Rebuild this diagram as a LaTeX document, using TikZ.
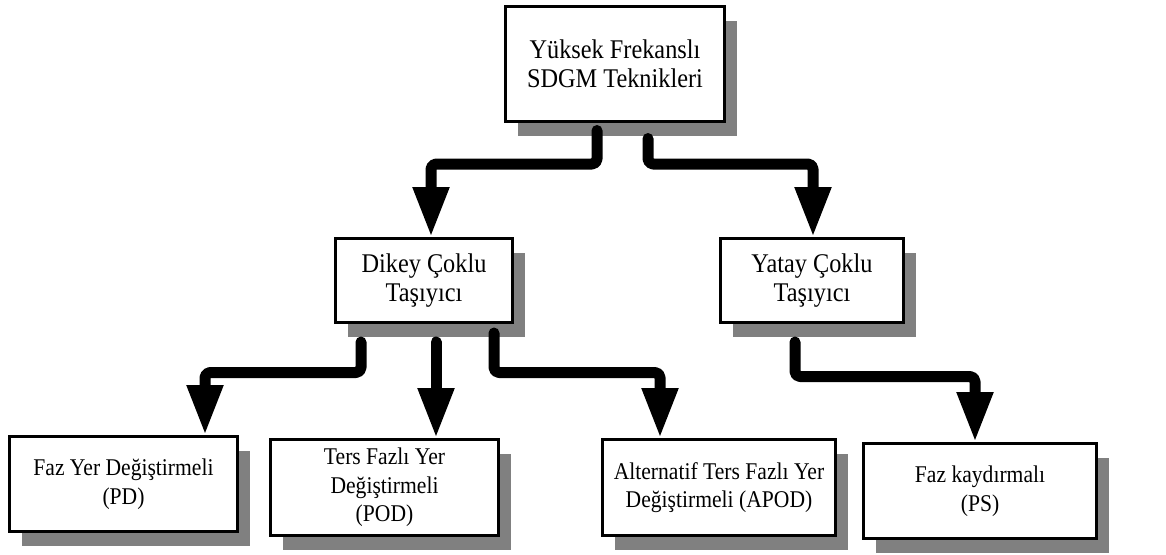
\documentclass[tikz,border=0pt]{standalone}
\usepackage{fontspec}
\setmainfont[FakeStretch=0.9]{Liberation Serif}
\usetikzlibrary{arrows.meta,shadows,calc}

\tikzset{
  box/.style={draw, line width=3pt, fill=white, align=center, inner sep=0pt,
    font=\fontsize{24}{28.5}\selectfont,
    drop shadow={shadow xshift=12.5pt, shadow yshift=-14pt, fill=black!50, opacity=1}},
  bigtext/.style={font=\fontsize{27}{28.5}\selectfont},
  conn/.style={line width=11pt, line cap=round, line join=round, rounded corners=5pt,
    -{Triangle[width=34pt,length=50pt]}},
}

\begin{document}
\begin{tikzpicture}[x=1pt,y=-1pt]
\useasboundingbox (0,0) rectangle (1166,554);

% boxes
\node[box, bigtext, minimum width=219pt, minimum height=115pt] (top) at (615,64)
  {Yüksek Frekanslı\\SDGM Teknikleri};
\node[box, bigtext, minimum width=177pt, minimum height=84pt] (dikey) at (424,280.5)
  {Dikey Çoklu\\Taşıyıcı};
\node[box, bigtext, minimum width=183pt, minimum height=84pt] (yatay) at (812,280.5)
  {Yatay Çoklu\\Taşıyıcı};
\node[box, minimum width=228pt, minimum height=95pt] (pd) at (123.5,484)
  {Faz Yer Değiştirmeli\\(PD)};
\node[box, minimum width=228pt, minimum height=96pt] (pod) at (384.5,487.5)
  {Ters Fazlı Yer\\Değiştirmeli\\(POD)};
\node[box, minimum width=233pt, minimum height=96pt] (apod) at (719,487.5)
  {Alternatif Ters Fazlı Yer\\Değiştirmeli (APOD)};
\node[box, minimum width=233pt, minimum height=95pt] (ps) at (980,491)
  {Faz kaydırmalı\\(PS)};

% connectors
\draw[conn] ($(top.south)+(-18,7.5)$) -- ++(0,33.5) -| ($(dikey.north)+(7,0)$);
\draw[conn] ($(top.south)+(33,15.5)$) -- ++(0,25.5) -| ($(yatay.north)+(1,0)$);
\draw[conn] ($(dikey.south)+(-63,18)$) -- ++(0,30.5) -| ($(pd.north)+(81.5,0)$);
\draw[conn] ($(dikey.south)+(12,18)$) -- ($(pod.north)+(51.5,0)$);
\draw[conn] ($(dikey.south)+(70,9)$) -- ++(0,39.5) -| ($(apod.north)+(-59,0)$);
\draw[conn] ($(yatay.south)+(-17,18)$) -- ++(0,34.5) -| ($(ps.north)+(-5,0)$);
\end{tikzpicture}
\end{document}
